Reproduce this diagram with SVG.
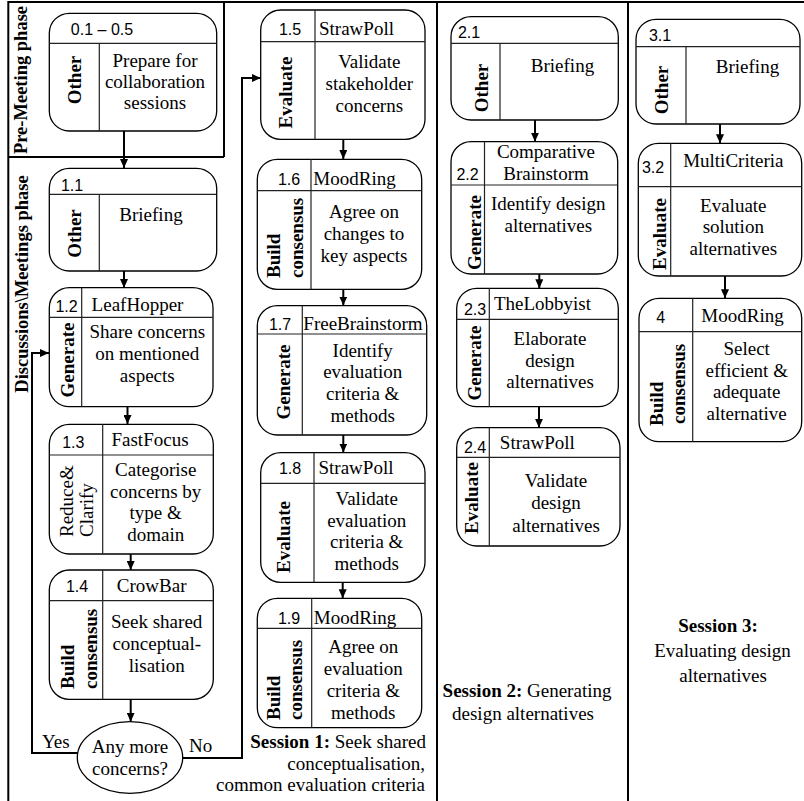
<svg xmlns="http://www.w3.org/2000/svg" width="804" height="801" viewBox="0 0 804 801">
<style>
.bg{fill:#fff}
.box{fill:#fff;stroke:#000;stroke-width:1.3}
.ln{stroke:#222;stroke-width:1.2;fill:none}
.frame{stroke:#000;stroke-width:2;fill:none}
.num{font-family:"Liberation Sans",Arial,sans-serif;font-size:16px;text-anchor:middle;fill:#000}
.t{font-family:"Liberation Serif","Times New Roman",serif;font-size:19px;text-anchor:middle;fill:#000}
.lb{font-family:"Liberation Serif","Times New Roman",serif;font-size:19px;font-weight:bold;text-anchor:middle;fill:#000}
.ls{font-family:"Liberation Serif","Times New Roman",serif;font-size:19px;font-weight:bold;text-anchor:start;fill:#000}
.lr{font-family:"Liberation Serif","Times New Roman",serif;font-size:19px;text-anchor:start;fill:#000}
.ph{font-family:"Liberation Serif","Times New Roman",serif;font-size:18.5px;font-weight:bold;text-anchor:middle;fill:#000}
.conn{stroke:#000;stroke-width:2;fill:none;marker-end:url(#ah)}
.cap{font-family:"Liberation Serif","Times New Roman",serif;font-size:19px;fill:#000}
</style>
<defs>
<marker id="ah" markerUnits="userSpaceOnUse" markerWidth="9" markerHeight="8" refX="9" refY="4" orient="auto">
<path d="M0,0 L9,4 L0,8 z" fill="#000"/>
</marker>
</defs>
<rect class="bg" x="0" y="0" width="804" height="801"/>

<g id="frame">
<path class="frame" d="M8,2 H804 M8.3,1 V801 M224,1 V157 M8,157 H224 M437,1 V801 M628,1 V801"/>
<text class="ph" transform="translate(27,80) rotate(-90)">Pre-Meeting phase</text>
<text class="ph" transform="translate(28,284) rotate(-90)">Discussions\Meetings phase</text>
</g>

<g id="connectors">
<path class="conn" d="M124,131 V168"/>
<path class="conn" d="M124,271 V288"/>
<path class="conn" d="M127.5,407 V424"/>
<path class="conn" d="M130.7,554 V570"/>
<path class="conn" d="M130.7,699 V721.7"/>
<path class="conn" d="M78.5,753 H32 V353 H49"/>
<path class="conn" d="M182.5,758 H242 V78 H261"/>
<path class="conn" d="M343.3,139 V159"/>
<path class="conn" d="M343.3,289 V305.5"/>
<path class="conn" d="M343.3,435 V452.5"/>
<path class="conn" d="M342.7,582.5 V598.3"/>
<path class="conn" d="M535,120 V141.7"/>
<path class="conn" d="M539.3,274 V288.3"/>
<path class="conn" d="M539,406.7 V427.7"/>
<path class="conn" d="M720,124 V143.3"/>
<path class="conn" d="M725,276 V298.3"/>
<text class="cap" x="42" y="748">Yes</text>
<text class="cap" x="189" y="752">No</text>
</g>

<g id="n0">
<rect class="box" x="49.3" y="13.3" width="167.4" height="117.7" rx="20"/>
<path class="ln" d="M49.3,43.3 H216.7 M99.3,43.3 V131"/>
<text class="num" x="102" y="35">0.1 – 0.5</text>
<text class="t" x="155" y="67">Prepare for</text>
<text class="t" x="155" y="88">collaboration</text>
<text class="t" x="155" y="109">sessions</text>
<text class="lb" transform="translate(81,80) rotate(-90)">Other</text>
</g>

<g id="n1_1">
<rect class="box" x="49.3" y="168.3" width="167.4" height="102.7" rx="20"/>
<path class="ln" d="M49.3,194.3 H216.7 M99.3,194.3 V271"/>
<text class="num" x="72" y="191">1.1</text>
<text class="t" x="151" y="221">Briefing</text>
<text class="lb" transform="translate(80.5,233.5) rotate(-90)">Other</text>
</g>

<g id="n1_2">
<rect class="box" x="49.3" y="287.7" width="163.7" height="119" rx="20"/>
<path class="ln" d="M49.3,317.3 H213 M81.7,287.7 V406.7"/>
<text class="num" x="66.5" y="311.5">1.2</text>
<text class="t" x="137.5" y="311">LeafHopper</text>
<text class="t" x="147.3" y="338.3">Share concerns</text>
<text class="t" x="147.3" y="360">on mentioned</text>
<text class="t" x="147.3" y="381.7">aspects</text>
<text class="lb" transform="translate(74,360) rotate(-90)">Generate</text>
</g>

<g id="n1_3">
<rect class="box" x="49.3" y="424.3" width="164" height="129.7" rx="20"/>
<path class="ln" d="M49.3,455 H213.3 M102.7,424.3 V554"/>
<text class="num" x="73.3" y="448.3">1.3</text>
<text class="t" x="150" y="445.7">FastFocus</text>
<text class="t" x="155.7" y="476">Categorise</text>
<text class="t" x="155.7" y="497.7">concerns by</text>
<text class="t" x="155.7" y="519.3">type &amp;</text>
<text class="t" x="155.7" y="541">domain</text>
<text class="lr" transform="translate(73,537) rotate(-90)">Reduce&amp;</text>
<text class="lr" transform="translate(93,537) rotate(-90)">Clarify</text>
</g>

<g id="n1_4">
<rect class="box" x="49.3" y="570" width="164" height="129.3" rx="20"/>
<path class="ln" d="M49.3,600.7 H213.3 M102.7,570 V699.3"/>
<text class="num" x="77" y="591.7">1.4</text>
<text class="t" x="151.7" y="591.7">CrowBar</text>
<text class="t" x="156.7" y="628.3">Seek shared</text>
<text class="t" x="156.7" y="650">conceptual-</text>
<text class="t" x="156.7" y="672.3">lisation</text>
<text class="ls" transform="translate(74,689) rotate(-90)">Build</text>
<text class="ls" transform="translate(97,689) rotate(-90)">consensus</text>
</g>

<g id="decision">
<ellipse class="box" cx="130" cy="757.5" rx="52.7" ry="35.8"/>
<text class="t" x="130" y="753.3">Any more</text>
<text class="t" x="130" y="775">concerns?</text>
</g>

<g id="n1_5">
<rect class="box" x="260.7" y="10" width="164.3" height="129.3" rx="20"/>
<path class="ln" d="M260.7,41.7 H425 M315,10 V139.3"/>
<text class="num" x="290" y="35">1.5</text>
<text class="t" x="356.5" y="35">StrawPoll</text>
<text class="t" x="369.3" y="68.3">Validate</text>
<text class="t" x="369.3" y="90">stakeholder</text>
<text class="t" x="369.3" y="111.7">concerns</text>
<text class="lb" transform="translate(292,92.5) rotate(-90)">Evaluate</text>
</g>

<g id="n1_6">
<rect class="box" x="257.3" y="159.3" width="164.4" height="130" rx="20"/>
<path class="ln" d="M257.3,190.7 H421.7 M311,159.3 V289.3"/>
<text class="num" x="289" y="185">1.6</text>
<text class="t" x="354.5" y="185">MoodRing</text>
<text class="t" x="364" y="218.3">Agree on</text>
<text class="t" x="364" y="240">changes to</text>
<text class="t" x="364" y="261.7">key aspects</text>
<text class="ls" transform="translate(280,278) rotate(-90)">Build</text>
<text class="ls" transform="translate(303,278) rotate(-90)">consensus</text>
</g>

<g id="n1_7">
<rect class="box" x="257.3" y="305.7" width="169.4" height="129.3" rx="20"/>
<path class="ln" d="M257.3,334 H426.7 M302.3,305.7 V435"/>
<text class="num" x="280" y="330">1.7</text>
<text class="t" x="363" y="330">FreeBrainstorm</text>
<text class="t" x="362.7" y="356.7">Identify</text>
<text class="t" x="362.7" y="378.3">evaluation</text>
<text class="t" x="362.7" y="400">criteria &amp;</text>
<text class="t" x="362.7" y="422">methods</text>
<text class="lb" transform="translate(290,382) rotate(-90)">Generate</text>
</g>

<g id="n1_8">
<rect class="box" x="260.7" y="452.7" width="164.3" height="129.6" rx="20"/>
<path class="ln" d="M260.7,483.3 H425 M314,452.7 V582.3"/>
<text class="num" x="290" y="474">1.8</text>
<text class="t" x="356" y="473.5">StrawPoll</text>
<text class="t" x="366.7" y="505">Validate</text>
<text class="t" x="366.7" y="526.7">evaluation</text>
<text class="t" x="366.7" y="548.3">criteria &amp;</text>
<text class="t" x="366.7" y="570">methods</text>
<text class="lb" transform="translate(290,537) rotate(-90)">Evaluate</text>
</g>

<g id="n1_9">
<rect class="box" x="257.3" y="598.3" width="164.4" height="129.4" rx="20"/>
<path class="ln" d="M257.3,628.3 H421.7 M311.7,598.3 V727.7"/>
<text class="num" x="289" y="624">1.9</text>
<text class="t" x="355" y="624">MoodRing</text>
<text class="t" x="363.3" y="653.3">Agree on</text>
<text class="t" x="363.3" y="675">evaluation</text>
<text class="t" x="363.3" y="696.7">criteria &amp;</text>
<text class="t" x="363.3" y="719">methods</text>
<text class="ls" transform="translate(280,720) rotate(-90)">Build</text>
<text class="ls" transform="translate(302,720) rotate(-90)">consensus</text>
</g>

<g id="cap1">
<text class="cap" text-anchor="end" x="426" y="748.3"><tspan font-weight="bold">Session 1:</tspan> Seek shared</text>
<text class="cap" text-anchor="end" x="425" y="770">conceptualisation,</text>
<text class="cap" text-anchor="end" x="425" y="790.7">common evaluation criteria</text>
</g>

<g id="n2_1">
<rect class="box" x="451" y="16.7" width="167.3" height="103.3" rx="20"/>
<path class="ln" d="M451,43.3 H618.3 M500,43.3 V120"/>
<text class="num" x="469" y="38.3">2.1</text>
<text class="t" x="562.5" y="71.7">Briefing</text>
<text class="lb" transform="translate(488,88) rotate(-90)">Other</text>
</g>

<g id="n2_2">
<rect class="box" x="451" y="141.7" width="166.7" height="132.3" rx="20"/>
<path class="ln" d="M451,185 H617.7 M484.5,141.7 V274"/>
<text class="num" x="467.5" y="180">2.2</text>
<text class="t" x="546" y="158.3">Comparative</text>
<text class="t" x="546" y="180">Brainstorm</text>
<text class="t" x="548.3" y="210">Identify design</text>
<text class="t" x="548.3" y="231.7">alternatives</text>
<text class="lb" transform="translate(481,232.5) rotate(-90)">Generate</text>
</g>

<g id="n2_3">
<rect class="box" x="456.7" y="288.3" width="161.6" height="118.4" rx="20"/>
<path class="ln" d="M456.7,319.3 H618.3 M489.3,288.3 V406.7"/>
<text class="num" x="475" y="315">2.3</text>
<text class="t" x="542.5" y="310">TheLobbyist</text>
<text class="t" x="550" y="345">Elaborate</text>
<text class="t" x="550" y="366.7">design</text>
<text class="t" x="550" y="388.3">alternatives</text>
<text class="lb" transform="translate(481,363) rotate(-90)">Generate</text>
</g>

<g id="n2_4">
<rect class="box" x="456.7" y="427.7" width="163.3" height="118.3" rx="20"/>
<path class="ln" d="M456.7,457.3 H620 M489.3,427.7 V546"/>
<text class="num" x="475" y="452.7">2.4</text>
<text class="t" x="537.3" y="449.3">StrawPoll</text>
<text class="t" x="556" y="487">Validate</text>
<text class="t" x="556" y="509">design</text>
<text class="t" x="556" y="531.5">alternatives</text>
<text class="lb" transform="translate(478,498) rotate(-90)">Evaluate</text>
</g>

<g id="cap2">
<text class="cap" text-anchor="middle" x="527" y="697"><tspan font-weight="bold">Session 2:</tspan> Generating</text>
<text class="cap" text-anchor="middle" x="523" y="720">design alternatives</text>
</g>

<g id="n3_1">
<rect class="box" x="636" y="19.3" width="164" height="104.7" rx="20"/>
<path class="ln" d="M636,46.7 H800 M686,46.7 V124"/>
<text class="num" x="660" y="40.7">3.1</text>
<text class="t" x="747.5" y="73.3">Briefing</text>
<text class="lb" transform="translate(668,90) rotate(-90)">Other</text>
</g>

<g id="n3_2">
<rect class="box" x="638.3" y="143.3" width="163.4" height="132.7" rx="20"/>
<path class="ln" d="M638.3,186.7 H801.7 M670.7,143.3 V276"/>
<text class="num" x="653" y="173.3">3.2</text>
<text class="t" x="733.3" y="166.7">MultiCriteria</text>
<text class="t" x="733.3" y="211.7">Evaluate</text>
<text class="t" x="733.3" y="233.3">solution</text>
<text class="t" x="733.3" y="255">alternatives</text>
<text class="lb" transform="translate(666,234) rotate(-90)">Evaluate</text>
</g>

<g id="n4">
<rect class="box" x="639" y="298.3" width="162.7" height="143.4" rx="20"/>
<path class="ln" d="M639,331.7 H801.7 M692.7,298.3 V441.7"/>
<text class="num" x="660.7" y="322.7">4</text>
<text class="t" x="742.5" y="321.7">MoodRing</text>
<text class="t" x="746.7" y="355">Select</text>
<text class="t" x="746.7" y="376.7">efficient &amp;</text>
<text class="t" x="746.7" y="398.3">adequate</text>
<text class="t" x="746.7" y="420">alternative</text>
<text class="ls" transform="translate(663,426) rotate(-90)">Build</text>
<text class="ls" transform="translate(685,424) rotate(-90)">consensus</text>
</g>

<g id="cap3">
<text class="cap" text-anchor="middle" font-weight="bold" x="718" y="631.7">Session 3:</text>
<text class="cap" text-anchor="middle" x="722.5" y="656.7">Evaluating design</text>
<text class="cap" text-anchor="middle" x="723" y="681.7">alternatives</text>
</g>
</svg>
